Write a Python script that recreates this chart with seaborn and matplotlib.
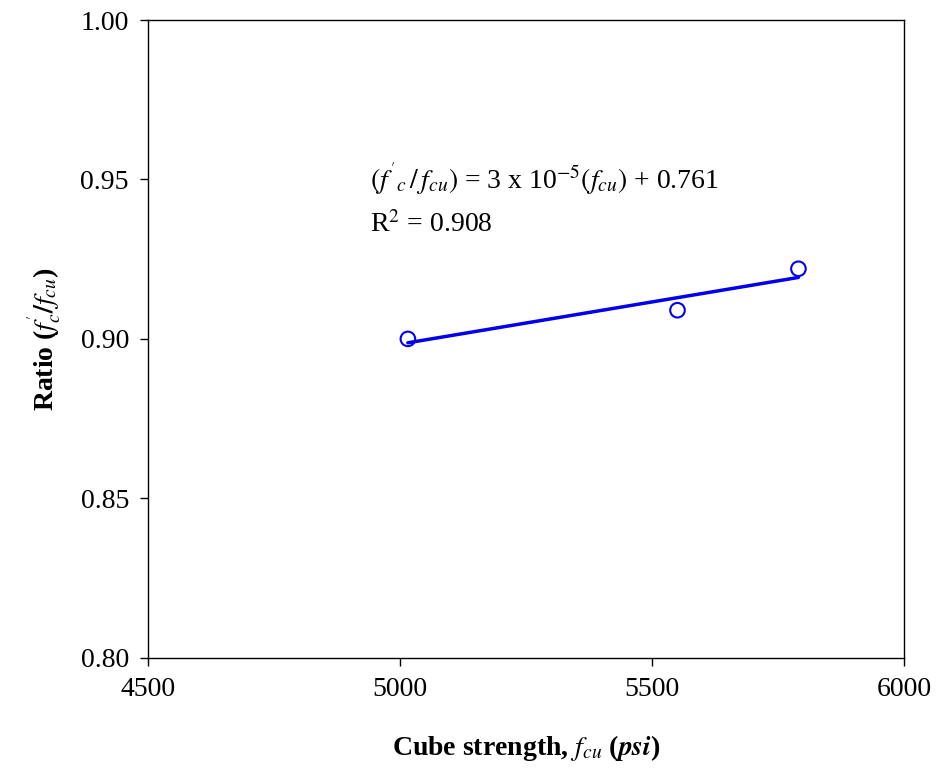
import numpy as np
import pandas as pd
import matplotlib
matplotlib.use("Agg")
import matplotlib.pyplot as plt
import seaborn as sns

# measured data
fcu = [5015, 5550, 5790]
ratio = [0.900, 0.909, 0.922]

# trend line (fitted to points)
slope, icpt = np.polyfit(fcu, ratio, 1)
line_x = [min(fcu), max(fcu)]
line_y = [slope * v + icpt for v in line_x]

df = pd.DataFrame({'fcu': fcu, 'ratio': ratio})
lf = pd.DataFrame({'x': line_x, 'y': line_y})

sns.set_style('white')
plt.rcParams['font.family'] = ['Liberation Serif', 'DejaVu Serif']
plt.rcParams['mathtext.fontset'] = 'stix'
plt.rcParams['text.color'] = 'black'
plt.rcParams['axes.labelcolor'] = 'black'

fig = plt.figure(figsize=(9.39, 7.72), dpi=100)
ax = fig.add_axes([0.158, 0.148, 0.805, 0.826])

sns.lineplot(data=lf, x='x', y='y', color='#0000ee', linewidth=2.5, ax=ax)
sns.scatterplot(data=df, x='fcu', y='ratio', marker='o', s=110, facecolor='none',
                edgecolor='#0000ee', linewidth=1.5, ax=ax, zorder=3)

ax.set_xlim(4500, 6000)
ax.set_ylim(0.80, 1.00)
ax.set_xticks([4500, 5000, 5500, 6000])
ax.set_yticks([0.80, 0.85, 0.90, 0.95, 1.00])
ax.set_yticklabels(['0.80', '0.85', '0.90', '0.95', '1.00'])
ax.tick_params(axis='both', labelsize=20, direction='out', length=6, width=1,
               pad=8, bottom=True, left=True, colors='black')
for s in ax.spines.values():
    s.set_color('black')
    s.set_linewidth(1)

ax.set_xlabel(r"Cube strength, $\boldsymbol{f_{cu}}$ ($\boldsymbol{psi}$)", fontsize=20,
              fontweight='bold', labelpad=22)
ax.set_ylabel(r"Ratio ($\boldsymbol{f^{'}_{c}/f_{cu}}$)", fontsize=20,
              fontweight='bold', labelpad=12)

ax.text(4940, 0.950, r"$(f^{'}{}_{c}\,/\,f_{cu})$ = 3 x 10$^{-5}$$(f_{cu})$ + 0.761",
        fontsize=20, va='center')
ax.text(4940, 0.936, r"R$^{2}$ = 0.908", fontsize=20, va='center')

fig.savefig('out.png', dpi=100)
